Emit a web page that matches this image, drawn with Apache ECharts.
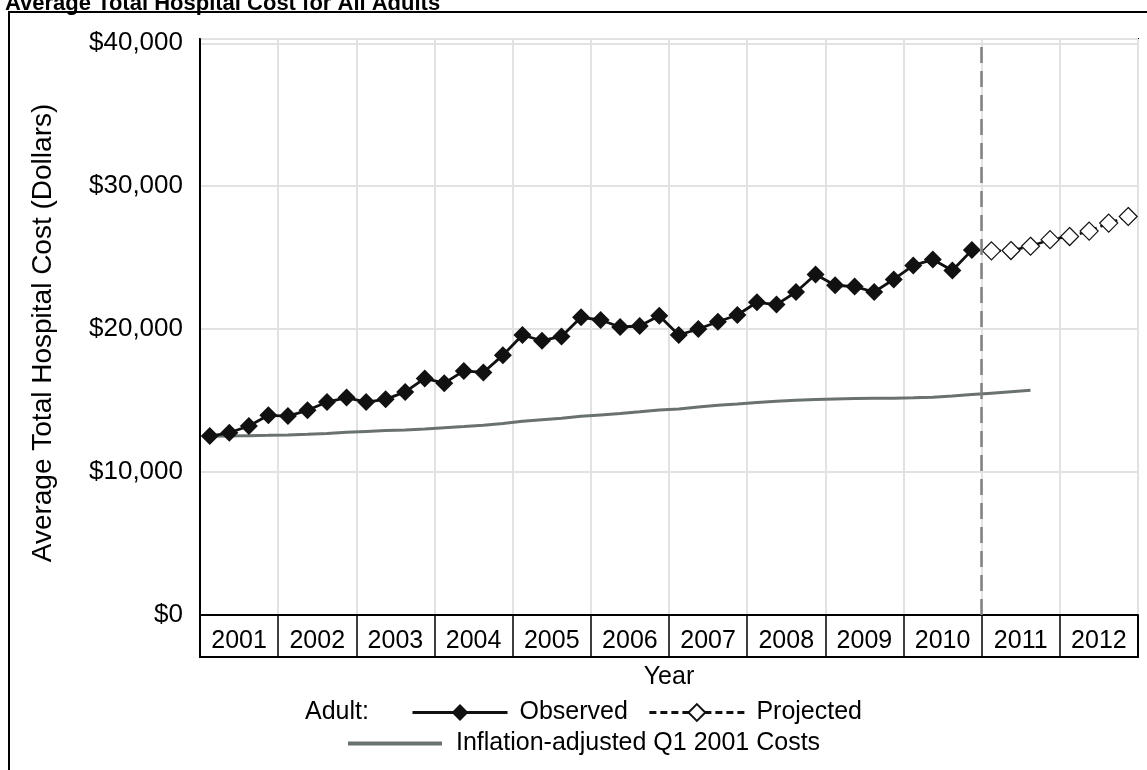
<!DOCTYPE html>
<html>
<head>
<meta charset="utf-8">
<script src="https://cdn.jsdelivr.net/npm/echarts@6/dist/echarts.min.js"></script>
<style>
html,body{margin:0;padding:0;background:#fff;}
#chart{width:1147px;height:770px;}
</style>
</head>
<body>
<div id="chart"></div>
<script>
// ---- data ----
const years = ['2001','2002','2003','2004','2005','2006','2007','2008','2009','2010','2011','2012'];
const quarters = ['Q1','Q2','Q3','Q4'];
const observed = [
  12520, 12750, 13220, 13970,
  13920, 14320, 14900, 15210,
  14900, 15090, 15610, 16550,
  16220, 17080, 16970, 18180,
  19590, 19190, 19490, 20830,
  20640, 20150, 20220, 20940,
  19590, 20010, 20520, 20990,
  21880, 21720, 22600, 23820,
  23070, 22980, 22600, 23480,
  24460, 24870, 24100, 25530
];
const projected = [25480, 25500, 25800, 26260, 26480, 26860, 27420, 27880];
const inflation = [
  12500, 12520, 12550, 12570,
  12600, 12640, 12700, 12780,
  12840, 12900, 12950, 13020,
  13100, 13180, 13280, 13400,
  13560, 13660, 13760, 13900,
  14000, 14100, 14220, 14350,
  14420, 14560, 14680, 14760,
  14860, 14950, 15020, 15080,
  15120, 15150, 15160, 15170,
  15200, 15240, 15320, 15420,
  15520, 15620, 15720
];
const yTicks = [0, 10000, 20000, 30000, 40000];
const projectionStartQuarter = 40;

// ---- build ----
const categories = [];
years.forEach(y => quarters.forEach(q => categories.push(y + ' ' + q)));
const projData = categories.map(() => null);
projData[observed.length - 1] = { value: observed[observed.length - 1], symbol: 'none' };
projected.forEach((v, i) => { projData[observed.length + i] = v; });

const FONT = "'Liberation Sans', Arial, sans-serif";
const chart = echarts.init(document.getElementById('chart'), null, { renderer: 'canvas' });
chart.setOption({
  animation: false,
  backgroundColor: '#fff',
  textStyle: { fontFamily: FONT, color: '#000' },
  title: {
    text: 'Average Total Hospital Cost for All Adults',
    left: 0, top: -12,
    textStyle: { fontFamily: FONT, fontWeight: 'bold', fontSize: 22, color: '#000' }
  },
  graphic: [
    { type: 'rect', shape: { x: 9, y: 12, width: 1300, height: 900 }, style: { fill: 'none', stroke: '#000', lineWidth: 2 }, silent: true, z: -1 },
    { type: 'text', x: 43, y: 333, rotation: Math.PI / 2, style: { text: 'Average Total Hospital Cost (Dollars)', font: '28px ' + FONT, fill: '#000', align: 'center', verticalAlign: 'middle' } },
    { type: 'text', x: 669, y: 677, style: { text: 'Year', font: '25px ' + FONT, fill: '#000', align: 'center', verticalAlign: 'middle' } },
    { type: 'text', x: 305, y: 712, style: { text: 'Adult:', font: '25px ' + FONT, fill: '#000', align: 'left', verticalAlign: 'middle' } }
  ],
  legend: [
    {
      data: ['Observed', 'Projected'],
      left: 406, top: 695,
      itemWidth: 95, itemHeight: 21, itemGap: 20,
      lineStyle: { width: 3 },
      textStyle: { fontFamily: FONT, fontSize: 25, color: '#000', padding: [0, 0, 0, 7] }
    },
    {
      data: [{ name: 'Inflation-adjusted Q1 2001 Costs', icon: 'rect' }],
      left: 343, top: 726,
      itemWidth: 94, itemHeight: 4,
      textStyle: { fontFamily: FONT, fontSize: 25, color: '#000', padding: [0, 0, 0, 9] }
    }
  ],
  grid: [
    { left: 200, top: 39, width: 938, height: 576, show: true, borderColor: '#000', borderWidth: 2, backgroundColor: 'transparent' },
    { left: 200, top: 615, width: 938, height: 42, show: true, borderColor: '#000', borderWidth: 2, backgroundColor: 'transparent' }
  ],
  xAxis: [
    {
      gridIndex: 0, type: 'category', data: categories, boundaryGap: true,
      axisLine: { show: true, lineStyle: { color: '#000', width: 2 } },
      axisTick: { show: false }, axisLabel: { show: false },
      splitLine: { show: true, interval: 3, lineStyle: { color: '#e2e2e2', width: 2 } }
    },
    {
      gridIndex: 1, type: 'category', data: years, boundaryGap: true, position: 'top',
      axisLine: { show: false }, axisTick: { show: false },
      axisLabel: { inside: true, margin: 14, fontSize: 25, color: '#000', fontFamily: FONT, interval: 0 },
      splitLine: { show: true, interval: 0, lineStyle: { color: '#000', width: 1.5 } }
    },
    { gridIndex: 0, type: 'value', min: 0, max: categories.length, show: false }
  ],
  yAxis: [
    {
      gridIndex: 0, type: 'value', min: 0, max: 40300, interval: 10000,
      axisLine: { show: true, lineStyle: { color: '#000', width: 2 } },
      axisTick: { show: false },
      axisLabel: {
        fontSize: 26, color: '#000', fontFamily: FONT, margin: 17, showMaxLabel: false,
        formatter: v => yTicks.indexOf(v) >= 0 ? '$' + v.toLocaleString('en-US') : ''
      },
      splitLine: { show: true, lineStyle: { color: '#e2e2e2', width: 2 } }
    },
    { gridIndex: 1, type: 'value', show: false }
  ],
  series: [
    {
      name: 'Inflation-adjusted Q1 2001 Costs', type: 'line', xAxisIndex: 0, yAxisIndex: 0,
      data: inflation, symbol: 'none', showSymbol: false,
      lineStyle: { color: '#69726f', width: 3 }, itemStyle: { color: '#69726f' }, z: 2
    },
    {
      name: 'Observed', type: 'line', xAxisIndex: 0, yAxisIndex: 0,
      data: observed, symbol: 'diamond', symbolSize: 18, showAllSymbol: true,
      lineStyle: { color: '#111', width: 2.8 }, itemStyle: { color: '#111' }, z: 4
    },
    {
      name: 'Projected', type: 'line', xAxisIndex: 0, yAxisIndex: 0,
      data: projData, symbol: 'diamond', symbolSize: 18, showAllSymbol: true, connectNulls: false,
      lineStyle: { color: '#111', width: 2.5, type: [7, 4] },
      itemStyle: { color: '#fff', borderColor: '#111', borderWidth: 1.2 }, z: 3
    },
    {
      name: 'projection-start', type: 'line', xAxisIndex: 2, yAxisIndex: 0, data: [],
      markLine: {
        silent: true, symbol: 'none', label: { show: false },
        lineStyle: { color: '#808080', width: 2.5, type: [16, 8] },
        data: [{ xAxis: projectionStartQuarter }]
      }
    }
  ]
});
</script>
</body>
</html>
